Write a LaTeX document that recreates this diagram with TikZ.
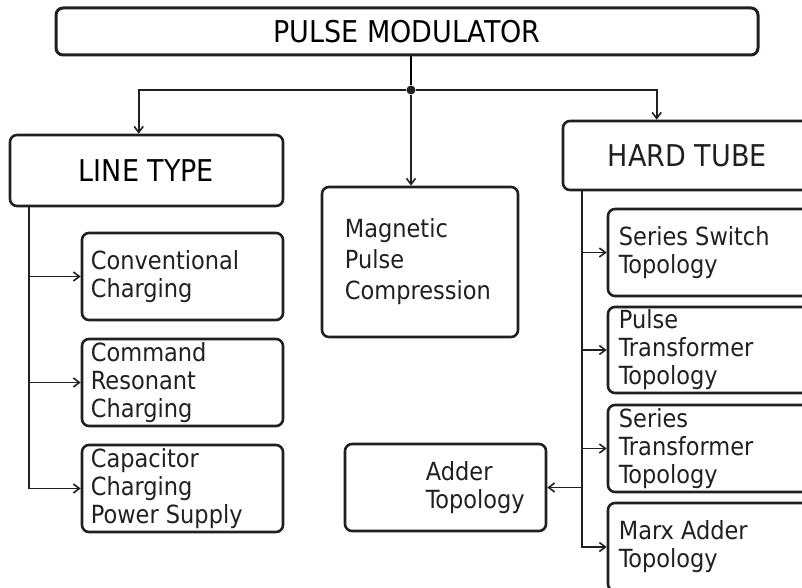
\documentclass[tikz,border=0pt]{standalone}
\usepackage{fontspec}
\IfFontExistsTF{DejaVu Sans Condensed}{\setmainfont{DejaVu Sans Condensed}}{\setmainfont{DejaVu Sans}[FakeStretch=0.9]}
\usepackage{xcolor}
\usepackage{tikz}
\usetikzlibrary{positioning, arrows.meta}
\definecolor{inkGray}{RGB}{35, 31, 32}

\begin{document}
\begin{tikzpicture}[
        x=1pt, y=-1pt,
        font=\fontsize{25}{28}\selectfont\color{inkGray},
        b/.style={rectangle, rounded corners=7pt, draw=inkGray, line width=2.6pt, inner sep=0pt},
        t/.style={anchor=west, align=left, inner sep=0pt, text=inkGray},
        hd/.style={font=\fontsize{30}{36}\selectfont},
        arr/.style={-{Straight Barb[length=6pt, width=9pt]}, line width=1.6pt, inkGray}
    ]
    \useasboundingbox (0,0) rectangle (802,588);
    \node[b, hd, line width=3pt, minimum width=702, minimum height=47] (top) at (407,31.5) {PULSE MODULATOR};
    \node[circle, fill=inkGray, inner sep=0pt, minimum size=9pt] (split) at (411,90) {};
    % left branch
    \node[b, hd, minimum width=273, minimum height=71] (linetype) at (146.5,170.5) {LINE TYPE};
    \node[b, minimum width=201, minimum height=87] (conv) at (182.5,276.5) {};
    \node[t] (conv-t) at ([xshift=10]conv.west) {Conventional\\Charging};
    \node[b, minimum width=201, minimum height=87] (crc) at (182.5,382.5) {};
    \node[t] (crc-t) at ([xshift=10]crc.west) {Command\\Resonant\\Charging};
    \node[b, minimum width=201, minimum height=87] (ccps) at (182.5,488.5) {};
    \node[t] (ccps-t) at ([xshift=10]ccps.west) {Capacitor\\Charging\\Power Supply};
    % middle
    \node[b, minimum width=196, minimum height=150] (mpc) at (420,262) {};
    \node[t, font=\fontsize{25}{31}\selectfont] (mpc-t) at ([xshift=24]mpc.west) {Magnetic\\Pulse\\Compression};
    % right branch
    \node[b, minimum width=267, minimum height=69] (hardtube) at (696.5,155.5) {};
    \node[t, hd] (hardtube-t) at ([xshift=46]hardtube.west) {HARD TUBE};
    \node[b, minimum width=222, minimum height=87] (ssw) at (719,252.5) {};
    \node[t] (ssw-t) at ([xshift=12]ssw.west) {Series Switch\\Topology};
    \node[b, minimum width=222, minimum height=86] (ptt) at (719,350) {};
    \node[t] (ptt-t) at ([xshift=12]ptt.west) {Pulse\\Transformer\\Topology};
    \node[b, minimum width=222, minimum height=87] (stt) at (719,448.5) {};
    \node[t] (stt-t) at ([xshift=12]stt.west) {Series\\Transformer\\Topology};
    \node[b, minimum width=222, minimum height=88] (marx) at (719,547) {};
    \node[t] (marx-t) at ([xshift=12]marx.west) {Marx Adder\\Topology};
    \node[b, minimum width=201, minimum height=87] (adder) at (445.5,487.5) {};
    \node[t] (adder-t) at ([xshift=82]adder.west) {Adder\\Topology};

    \draw[line width=1.6pt] (split |- top.south) -- (split);
    \draw[arr] (split) -| ([xshift=130]linetype.north west);
    \draw[arr] (split) -- (split |- mpc.north);
    \draw[arr] (split) -| ([xshift=95]hardtube.north west);

    \coordinate (lspine) at ([xshift=20]linetype.south west);
    \coordinate (rspine) at ([xshift=20]hardtube.south west);
    \foreach \n in {conv, crc, ccps}
        \draw[arr] (lspine) |- (\n.west);
    \foreach \n in {ssw, ptt, stt, marx}
        \draw[arr] (rspine) |- (\n.west);
    \draw[arr] (rspine) |- (adder.east);
\end{tikzpicture}
\end{document}
